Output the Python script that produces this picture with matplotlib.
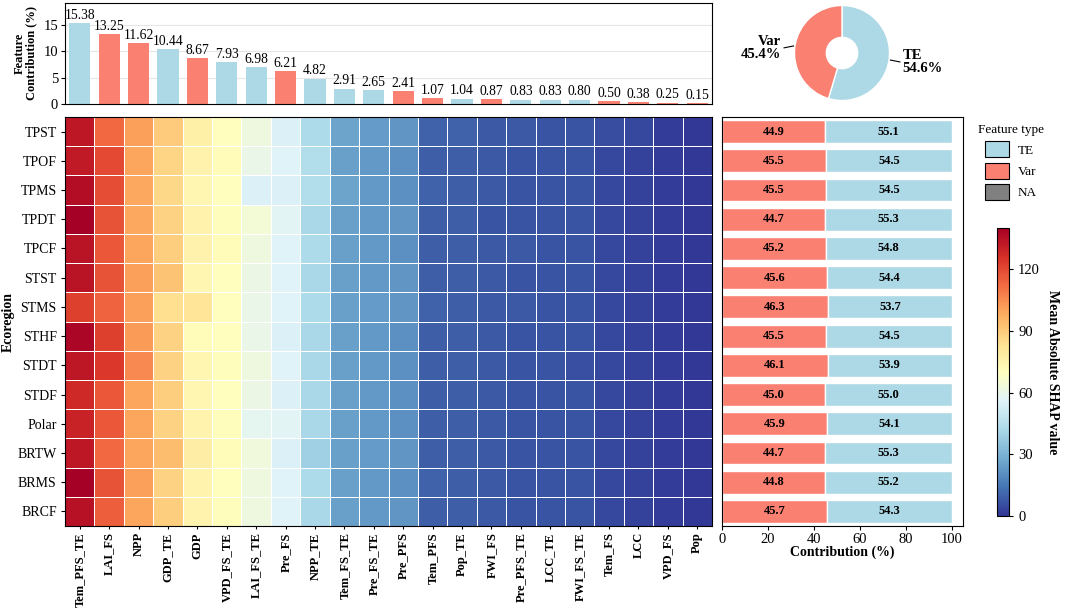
import matplotlib
matplotlib.use("Agg")
import matplotlib.pyplot as plt
import numpy as np
from matplotlib.patches import Patch

plt.rcParams['font.family'] = ['Liberation Serif', 'DejaVu Serif']

features = ["Tem_PFS_TE", "LAI_FS", "NPP", "GDP_TE", "GDP", "VPD_FS_TE", "LAI_FS_TE",
            "Pre_FS", "NPP_TE", "Tem_FS_TE", "Pre_FS_TE", "Pre_PFS", "Tem_PFS", "Pop_TE",
            "FWI_FS", "Pre_PFS_TE", "LCC_TE", "FWI_FS_TE", "Tem_FS", "LCC", "VPD_FS", "Pop"]
feature_type = ["TE", "Var", "Var", "TE", "Var", "TE", "TE", "Var", "TE", "TE", "TE", "Var",
                "Var", "TE", "Var", "TE", "TE", "TE", "Var", "Var", "Var", "Var"]
contribution = [15.38, 13.25, 11.62, 10.44, 8.67, 7.93, 6.98, 6.21, 4.82, 2.91, 2.65, 2.41,
                1.07, 1.04, 0.87, 0.83, 0.83, 0.80, 0.50, 0.38, 0.25, 0.15]

ecoregions = ["TPST", "TPOF", "TPMS", "TPDT", "TPCF", "STST", "STMS", "STHF", "STDT",
              "STDF", "Polar", "BRTW", "BRMS", "BRCF"]

shap_TPST = [133, 113, 101, 90, 77, 70, 62, 55, 43, 26, 24, 22, 10, 10, 8, 8, 7, 7, 5, 4, 2, 1]
shap_TPOF = [132, 120, 100, 87, 76, 72, 60, 56, 44, 25, 23, 21, 9, 9, 8, 7, 7, 7, 4, 3, 2, 1]
shap_TPMS = [136, 119, 99, 86, 74, 70, 55, 55, 44, 26, 23, 21, 10, 9, 8, 7, 7, 7, 4, 3, 2, 1]
shap_TPDT = [140, 118, 99, 88, 76, 71, 64, 57, 42, 25, 23, 22, 9, 9, 7, 7, 7, 7, 4, 3, 2, 1]
shap_TPCF = [134, 117, 100, 89, 76, 72, 62, 56, 43, 25, 23, 21, 9, 9, 8, 8, 7, 7, 4, 3, 2, 1]
shap_STST = [134, 118, 101, 92, 74, 70, 61, 56, 42, 25, 23, 22, 9, 9, 8, 7, 7, 7, 4, 3, 2, 1]
shap_STMS = [122, 114, 101, 84, 82, 70, 60, 56, 43, 25, 24, 22, 10, 9, 8, 8, 7, 7, 4, 3, 2, 1]
shap_STHF = [138, 122, 102, 88, 72, 70, 60, 55, 42, 25, 23, 21, 9, 9, 8, 7, 7, 7, 4, 3, 2, 1]
shap_STDT = [133, 124, 106, 88, 74, 71, 62, 56, 42, 25, 23, 21, 9, 9, 8, 7, 7, 6, 4, 3, 2, 1]
shap_STDF = [128, 117, 100, 89, 74, 70, 61, 55, 42, 25, 23, 21, 9, 9, 8, 7, 7, 7, 4, 3, 2, 1]
shap_Polar = [130, 117, 100, 88, 75, 71, 58, 57, 42, 25, 23, 21, 9, 9, 8, 7, 7, 7, 4, 3, 2, 1]
shap_BRTW = [133, 113, 100, 94, 78, 72, 63, 55, 39, 25, 24, 22, 9, 9, 8, 7, 7, 7, 4, 3, 2, 1]
shap_BRMS = [140, 118, 101, 88, 75, 70, 62, 56, 43, 25, 23, 21, 10, 9, 8, 7, 7, 7, 4, 3, 2, 1]
shap_BRCF = [135, 115, 100, 89, 75, 71, 62, 56, 42, 25, 23, 22, 9, 9, 8, 7, 7, 7, 4, 3, 2, 1]

var_pct = [44.9, 45.5, 45.5, 44.7, 45.2, 45.6, 46.3, 45.5, 46.1, 45.0, 45.9, 44.7, 44.8, 45.7]
te_pct = [55.1, 54.5, 54.5, 55.3, 54.8, 54.4, 53.7, 54.5, 53.9, 55.0, 54.1, 55.3, 55.2, 54.3]

pie_labels = ["TE", "Var"]
pie_values = [54.6, 45.4]

shap = np.array([shap_TPST, shap_TPOF, shap_TPMS, shap_TPDT, shap_TPCF, shap_STST, shap_STMS,
                 shap_STHF, shap_STDT, shap_STDF, shap_Polar, shap_BRTW, shap_BRMS, shap_BRCF])

C_TE = "#add8e6"
C_VAR = "#fa8072"
C_NA = "#808080"
type_color = {"TE": C_TE, "Var": C_VAR, "NA": C_NA}

W, H = 1080, 609
fig = plt.figure(figsize=(W / 100, H / 100), dpi=100)

def px_axes(l, t, r, b):
    return fig.add_axes([l / W, 1 - b / H, (r - l) / W, (b - t) / H])

# ---- top bar chart
axb = px_axes(65, 3, 712, 104)
x = np.arange(len(features))
axb.bar(x, contribution, width=0.72, color=[type_color[t] for t in feature_type], zorder=2)
for xi, v in zip(x, contribution):
    axb.text(xi, v + 0.25, f"{v:.2f}", ha="center", va="bottom", fontsize=9.8)
axb.set_xlim(-0.5, len(features) - 0.5)
axb.set_ylim(0, 19.2)
axb.set_yticks([0, 5, 10, 15])
axb.set_xticks([])
axb.yaxis.grid(True, color="#e6e6e6", linewidth=0.8, zorder=0)
axb.tick_params(axis="y", labelsize=10.5, length=3, pad=2)
axb.set_ylabel("Feature\nContribution (%)", fontsize=9, fontweight="bold", labelpad=4,
               linespacing=1.0)
for s in axb.spines.values():
    s.set_linewidth(0.8)

# ---- heatmap
axh = px_axes(65, 117, 712, 526)
vmax = 140
mesh = axh.pcolormesh(shap, cmap="RdYlBu_r", vmin=0, vmax=vmax, edgecolors="white", linewidth=0.6)
axh.set_xlim(0, len(features))
axh.set_ylim(len(ecoregions), 0)
axh.set_xticks(np.arange(len(features)) + 0.5)
axh.set_xticklabels(features, rotation=90, fontsize=9, fontweight="bold")
axh.set_yticks(np.arange(len(ecoregions)) + 0.5)
axh.set_yticklabels(ecoregions, fontsize=10)
axh.tick_params(axis="x", length=2.5, pad=2)
axh.tick_params(axis="y", length=3, pad=3)
axh.set_ylabel("Ecoregion", fontsize=10, fontweight="bold")
axh.yaxis.set_label_coords(-50 / 647, 0.5)
for s in axh.spines.values():
    s.set_linewidth(0.8)

# ---- stacked bars
axs = px_axes(722, 117, 963, 526)
yy = np.arange(len(ecoregions))
axs.barh(yy, var_pct, height=0.78, color=C_VAR, edgecolor="white", linewidth=1)
axs.barh(yy, te_pct, left=var_pct, height=0.78, color=C_TE, edgecolor="white", linewidth=1)
for yi, v, t in zip(yy, var_pct, te_pct):
    axs.text(v / 2, yi, f"{v:.1f}", ha="center", va="center", fontsize=9, fontweight="bold")
    axs.text(v + t / 2, yi, f"{t:.1f}", ha="center", va="center", fontsize=9, fontweight="bold")
axs.set_ylim(len(ecoregions) - 0.5, -0.5)
axs.set_xlim(0, 105)
axs.set_yticks([])
axs.set_xticks([0, 20, 40, 60, 80, 100])
axs.tick_params(axis="x", labelsize=10.5, length=3, pad=2)
axs.set_xlabel("Contribution (%)", fontsize=10, fontweight="bold", labelpad=0)
for s in axs.spines.values():
    s.set_linewidth(0.8)

# ---- legend
handles = [Patch(facecolor=type_color[k], edgecolor="black", linewidth=0.8, label=k)
           for k in ["TE", "Var", "NA"]]
fig.legend(handles=handles, title="Feature type", loc="upper left",
           bbox_to_anchor=(966 / W, 1 - 112 / H), frameon=False, fontsize=9.5,
           title_fontsize=9.5, handlelength=1.8, handleheight=1.5, labelspacing=0.4,
           handletextpad=0.7)

# ---- colorbar
axc = px_axes(997, 228, 1009, 516)
cb = fig.colorbar(mesh, cax=axc)
cb.set_ticks([0, 30, 60, 90, 120])
cb.ax.tick_params(labelsize=10.5, length=3)
cb.outline.set_linewidth(0.8)
cb.set_label("Mean Absolute SHAP value", fontsize=10, fontweight="bold", rotation=270, labelpad=14)

# ---- pie
axp = px_axes(794, 5, 890, 101)
wedges, _ = axp.pie(pie_values, colors=[type_color[k] for k in pie_labels], startangle=90,
                    counterclock=False, wedgeprops=dict(width=0.67, edgecolor="white", linewidth=1))
axp.set_aspect("equal")
axp.set_xlim(-1.01, 1.01)
axp.set_ylim(-1.01, 1.01)
angle = 90.0
for w, lab, val in zip(wedges, pie_labels, pie_values):
    span = 360 * val / sum(pie_values)
    mid = np.deg2rad(angle - span / 2)
    angle -= span
    cx, cy = np.cos(mid), np.sin(mid)
    sx = np.sign(cx)
    x0, y0 = cx * 1.03, cy * 1.03
    axp.plot([x0, x0 + 0.2 * sx], [y0, y0 - 0.04], color="black", lw=0.8, clip_on=False)
    axp.text(x0 + 0.26 * sx, y0 - 0.04, f"{lab}\n{val:.1f}%",
             ha="left" if sx > 0 else "right", va="center", fontsize=10.5, fontweight="bold",
             linespacing=1.0)

fig.savefig("out.png", dpi=100)
